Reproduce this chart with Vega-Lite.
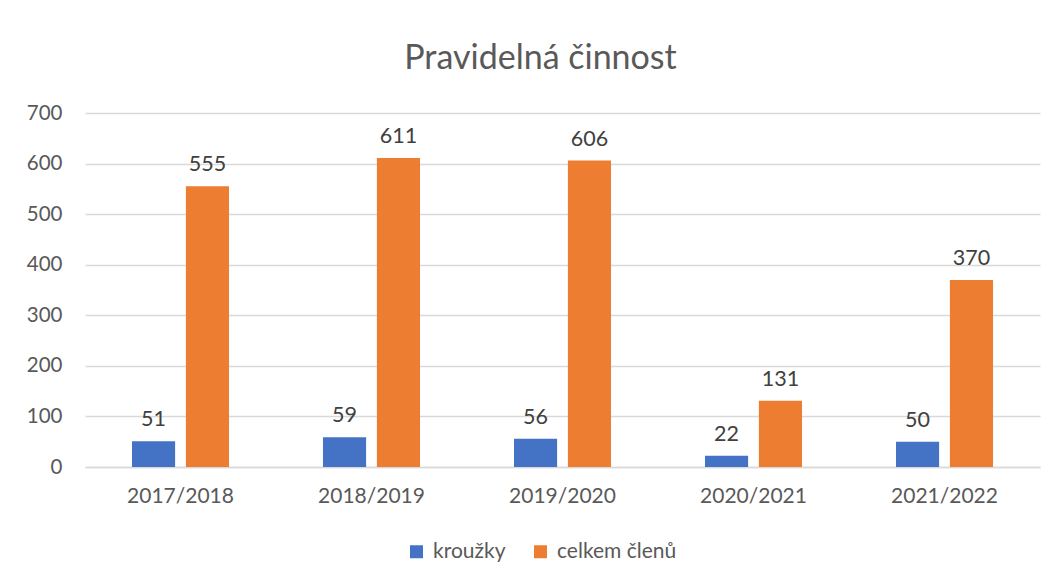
{
  "$schema": "https://vega.github.io/schema/vega-lite/v6.json",
  "autosize": "none",
  "width": 955,
  "height": 354,
  "padding": {"left": 85, "top": 113, "right": 17, "bottom": 115},
  "background": "white",
  "title": {
    "text": "Pravidelná činnost",
    "font": "Lato",
    "fontSize": 34,
    "fontWeight": "normal",
    "color": "#595959",
    "anchor": "middle",
    "frame": "group",
    "dx": -22,
    "offset": 27
  },
  "data": {
    "values": [
      {"rok": "2017/2018", "serie": "kroužky", "hodnota": 51},
      {"rok": "2017/2018", "serie": "celkem členů", "hodnota": 555},
      {"rok": "2018/2019", "serie": "kroužky", "hodnota": 59},
      {"rok": "2018/2019", "serie": "celkem členů", "hodnota": 611},
      {"rok": "2019/2020", "serie": "kroužky", "hodnota": 56},
      {"rok": "2019/2020", "serie": "celkem členů", "hodnota": 606},
      {"rok": "2020/2021", "serie": "kroužky", "hodnota": 22},
      {"rok": "2020/2021", "serie": "celkem členů", "hodnota": 131},
      {"rok": "2021/2022", "serie": "kroužky", "hodnota": 50},
      {"rok": "2021/2022", "serie": "celkem členů", "hodnota": 370}
    ]
  },
  "encoding": {
    "x": {
      "field": "rok",
      "type": "nominal",
      "sort": null,
      "title": null,
      "scale": {"paddingInner": 0.492, "paddingOuter": 0.246},
      "axis": {
        "labelAngle": 0,
        "labelFont": "Lato",
        "labelFontSize": 21,
        "labelColor": "#595959",
        "labelPadding": 18,
        "ticks": false,
        "domainColor": "#D9D9D9",
        "domainWidth": 1.5,
        "grid": false
      }
    },
    "xOffset": {
      "field": "serie",
      "type": "nominal",
      "sort": ["kroužky", "celkem členů"],
      "scale": {"paddingInner": 0.2, "paddingOuter": 0}
    },
    "y": {
      "field": "hodnota",
      "type": "quantitative",
      "title": null,
      "scale": {"domain": [0, 700]},
      "axis": {
        "values": [0, 100, 200, 300, 400, 500, 600, 700],
        "labelFont": "Lato",
        "labelFontSize": 20.5,
        "labelColor": "#595959",
        "labelPadding": 23,
        "ticks": false,
        "domain": false,
        "gridColor": "#D9D9D9",
        "gridWidth": 1.5
      }
    },
    "color": {
      "field": "serie",
      "type": "nominal",
      "sort": ["kroužky", "celkem členů"],
      "scale": {"domain": ["kroužky", "celkem členů"], "range": ["#4472C4", "#ED7D31"]},
      "legend": {
        "title": null,
        "orient": "none",
        "direction": "horizontal",
        "legendX": 321,
        "legendY": 428,
        "symbolType": "square",
        "symbolSize": 169,
        "symbolStrokeWidth": 0,
        "labelFont": "Lato",
        "labelFontSize": 21,
        "labelColor": "#595959",
        "labelOffset": 6,
        "columnPadding": 24
      }
    }
  },
  "layer": [
    {"mark": {"type": "bar"}},
    {
      "mark": {
        "type": "text",
        "baseline": "bottom",
        "dy": -10,
        "font": "Lato",
        "fontSize": 21.5,
        "color": "#404040"
      },
      "encoding": {
        "text": {"field": "hodnota", "type": "quantitative"},
        "color": {"value": "#404040"}
      }
    }
  ],
  "config": {"view": {"stroke": null}}
}
